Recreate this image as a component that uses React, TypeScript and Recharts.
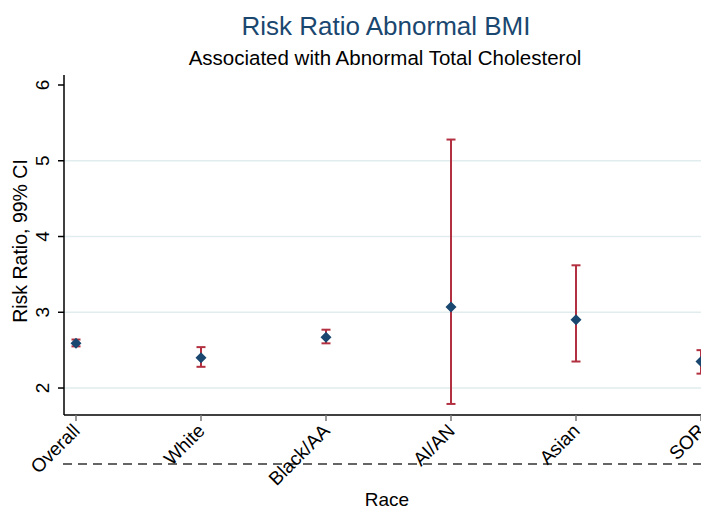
import React from 'react';
import { ScatterChart, Scatter, XAxis, YAxis, ErrorBar, ReferenceLine } from 'recharts';

const categories = ['Overall', 'White', 'Black/AA', 'AI/AN', 'Asian', 'SOR'];
const riskRatio = [2.59, 2.40, 2.67, 3.07, 2.90, 2.35];
const lowerCI = [2.55, 2.28, 2.59, 1.79, 2.35, 2.19];
const upperCI = [2.64, 2.54, 2.77, 5.28, 3.62, 2.50];
const yTicks = [2, 3, 4, 5, 6];
const gridValues = [2, 3, 4, 5];

const FONT = '"Liberation Sans", Arial, sans-serif';
const NAVY = '#1a476f';
const RED = '#b23040';

const rows = categories.map((name, i) => ({
  x: i,
  name,
  y: riskRatio[i],
  err: [riskRatio[i] - lowerCI[i], upperCI[i] - riskRatio[i]],
}));

const XTick = (props: any) => {
  const { x, y, payload } = props;
  const label = categories[payload.value] ?? '';
  const tx = x + 5;
  const ty = y + 9;
  return (
    <text x={tx} y={ty} transform={`rotate(-45, ${tx}, ${ty})`} textAnchor="end"
      fontFamily={FONT} fontSize={19} fill="#000">
      {label}
    </text>
  );
};

const YTick = (props: any) => {
  const { x, y, payload } = props;
  const tx = x - 7;
  return (
    <text x={tx} y={y} transform={`rotate(-90, ${tx}, ${y})`} textAnchor="middle"
      fontFamily={FONT} fontSize={19} fill="#000">
      {payload.value}
    </text>
  );
};

const Diamond = (props: any) => {
  const { cx, cy } = props;
  if (cx == null || cy == null) return null;
  const r = 5.5;
  return <path d={`M${cx},${cy - r}L${cx + r},${cy}L${cx},${cy + r}L${cx - r},${cy}Z`} fill={NAVY} />;
};

const Nothing = () => <g />;

export default function App() {
  return (
    <div style={{ position: 'absolute', left: 0, top: 0, width: 701, height: 509, background: '#fff', overflow: 'hidden' }}>
      <svg width={701} height={509} style={{ position: 'absolute', left: 0, top: 0 }}>
        <text x={386} y={35} textAnchor="middle" fontFamily={FONT} fontSize={26} fill={NAVY}>
          Risk Ratio Abnormal BMI
        </text>
        <text x={385} y={65} textAnchor="middle" fontFamily={FONT} fontSize={20.5} fill="#000">
          Associated with Abnormal Total Cholesterol
        </text>
        <text x={27} y={241} transform="rotate(-90, 27, 241)" textAnchor="middle" fontFamily={FONT} fontSize={19.5} fill="#000">
          Risk Ratio, 99% CI
        </text>
        <text x={387} y={506} textAnchor="middle" fontFamily={FONT} fontSize={19} fill="#000">
          Race
        </text>
        <line x1={63} y1={464} x2={701} y2={464} stroke="#333" strokeWidth={1.3} strokeDasharray="9 6" />
      </svg>
      <div style={{ position: 'absolute', left: 0, top: 0 }}>
        <ScatterChart width={701} height={509} margin={{ top: 75, right: 0, bottom: 0, left: 0 }}>
          {gridValues.map((v) => (
            <ReferenceLine key={v} y={v} stroke="#e1ecee" strokeWidth={1.5} ifOverflow="hidden" />
          ))}
          <XAxis type="number" dataKey="x" domain={[-0.096, 5]} ticks={[0, 1, 2, 3, 4, 5]}
            allowDataOverflow interval={0} height={94} tickSize={6}
            tick={<XTick />} tickLine={{ stroke: '#777', strokeWidth: 1.5 }}
            axisLine={{ stroke: '#000', strokeWidth: 1.5 }} />
          <YAxis type="number" dataKey="y" domain={[1.644, 6.132]} ticks={yTicks}
            allowDataOverflow interval={0} width={64} tickSize={6}
            tick={<YTick />} tickLine={{ stroke: '#000', strokeWidth: 1.5 }}
            axisLine={{ stroke: '#000', strokeWidth: 1.5 }} />
          <Scatter data={rows} dataKey="y" shape={<Nothing />} isAnimationActive={false}>
            <ErrorBar dataKey="err" direction="y" width={4.5} stroke={RED} strokeWidth={2} isAnimationActive={false} />
          </Scatter>
          <Scatter data={rows} dataKey="y" shape={<Diamond />} isAnimationActive={false} />
        </ScatterChart>
      </div>
    </div>
  );
}
